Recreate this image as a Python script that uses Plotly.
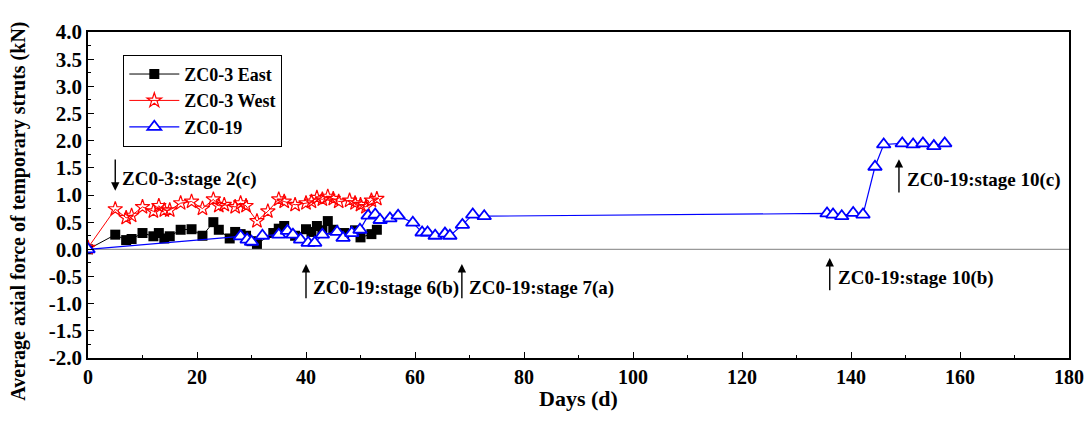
import plotly.graph_objects as go

east_days = [0, 5, 7, 8, 10, 12, 13, 14, 15, 17, 19, 21, 23, 24, 26, 27, 28, 29, 30, 31,
             34, 35, 36, 38, 40, 41, 42, 43, 44, 45, 47, 49, 50, 52, 53]
east_vals = [0.0, 0.27, 0.17, 0.19, 0.30, 0.24, 0.30, 0.20, 0.24, 0.36, 0.37, 0.25, 0.50, 0.36,
             0.20, 0.32, 0.28, 0.25, 0.15, 0.10, 0.30, 0.38, 0.43, 0.25, 0.37, 0.32, 0.43, 0.35,
             0.52, 0.36, 0.30, 0.35, 0.22, 0.28, 0.36]

west_days = [0, 5, 7, 8, 10, 12, 13, 14, 15, 17, 19, 21, 23, 24, 25, 27, 28, 29, 31, 33,
             35, 36, 38, 40, 41, 42, 43, 44, 45, 46, 48, 49, 50, 51, 52, 53]
west_vals = [0.03, 0.74, 0.58, 0.62, 0.78, 0.70, 0.80, 0.72, 0.72, 0.85, 0.88, 0.75, 0.92,
             0.80, 0.82, 0.78, 0.85, 0.80, 0.52, 0.70, 0.92, 0.88, 0.82, 0.85, 0.88, 0.95,
             0.92, 0.97, 0.93, 0.88, 0.90, 0.85, 0.82, 0.78, 0.90, 0.93]

zc19_days = [0, 28, 29.2, 30, 32, 35, 36.6, 37.6, 39, 40.4, 41.6, 43, 45.7, 46.8, 48.4, 49.9,
             51.4, 52.7, 53.6, 55.4, 56.9, 59.6, 61.3, 62.3, 63.7, 65.5, 66.4, 68.7, 70.6, 72.7,
             135.6, 136.7, 138.3, 140.4, 142.2, 144.4, 146.0, 149.4, 151.4, 153.2, 155.2, 157.2]
zc19_vals = [0.0, 0.24, 0.18, 0.14, 0.25, 0.27, 0.34, 0.27, 0.18, 0.12, 0.12, 0.27, 0.32, 0.21,
             0.30, 0.36, 0.62, 0.64, 0.54, 0.57, 0.62, 0.49, 0.31, 0.31, 0.25, 0.29, 0.25, 0.45,
             0.64, 0.61, 0.66, 0.64, 0.61, 0.67, 0.64, 1.52, 1.93, 1.95, 1.93, 1.95, 1.90, 1.95]

y_ticks = [-2.0, -1.5, -1.0, -0.5, 0.0, 0.5, 1.0, 1.5, 2.0, 2.5, 3.0, 3.5, 4.0]
x_ticks = [0, 20, 40, 60, 80, 100, 120, 140, 160, 180]

FONT = "Liberation Serif"

fig = go.Figure()
fig.add_trace(go.Scatter(x=east_days, y=east_vals, mode="lines+markers", name="<b>ZC0-3 East</b>",
                         line=dict(color="black", width=1),
                         marker=dict(symbol="square", size=10, color="black")))
fig.add_trace(go.Scatter(x=west_days, y=west_vals, mode="lines+markers", name="<b>ZC0-3 West</b>",
                         line=dict(color="red", width=1),
                         marker=dict(symbol="star-open", size=11, color="red",
                                     line=dict(width=1.2, color="red"))))
fig.add_trace(go.Scatter(x=zc19_days, y=zc19_vals, mode="lines+markers", name="<b>ZC0-19</b>",
                         line=dict(color="blue", width=1.2),
                         marker=dict(symbol="triangle-up", size=12, color="white",
                                     line=dict(width=1.8, color="blue"))))

fig.add_shape(type="line", xref="paper", x0=0, x1=1, yref="y", y0=0, y1=0,
              line=dict(color="#999999", width=1.2), layer="below")

def arrow(x, y_tail, y_head):
    fig.add_annotation(x=x, y=y_head, ax=x, ay=y_tail, xref="x", yref="y", axref="x", ayref="y",
                       showarrow=True, arrowhead=2, arrowsize=1.2, arrowwidth=1.4,
                       arrowcolor="black", text="")

def label(x, y, txt):
    fig.add_annotation(x=x, y=y, xref="x", yref="y", text="<b>" + txt + "</b>", showarrow=False,
                       xanchor="left", yanchor="middle",
                       font=dict(family=FONT, size=19, color="black"))

arrow(5, 1.68, 1.08)
label(5.9, 1.3, "ZC0-3:stage 2(c)")
arrow(40, -0.93, -0.27)
label(41.0, -0.71, "ZC0-19:stage 6(b)")
arrow(68.6, -0.93, -0.27)
label(69.6, -0.71, "ZC0-19:stage 7(a)")
arrow(136.1, -0.78, -0.16)
label(137.3, -0.52, "ZC0-19:stage 10(b)")
arrow(148.8, 1.02, 1.66)
label(149.9, 1.28, "ZC0-19:stage 10(c)")

# y-axis title as a rotated annotation (slightly below the plot centre, as in the reference)
fig.add_annotation(xref="paper", yref="paper", x=-0.071, y=0.45, xanchor="center", yanchor="middle",
                   text="<b>Average axial force of temporary struts (kN)</b>", textangle=-90,
                   showarrow=False, font=dict(family=FONT, size=20, color="black"))

fig.update_layout(
    width=1086, height=421,
    margin=dict(l=88, r=17, t=32, b=63, autoexpand=False),
    plot_bgcolor="white", paper_bgcolor="white",
    font=dict(family=FONT, size=19, color="black"),
    showlegend=True,
    legend=dict(x=0.036, y=0.93, xanchor="left", yanchor="top",
                bgcolor="white", bordercolor="black", borderwidth=1,
                font=dict(family=FONT, size=18, color="black"),
                tracegroupgap=0, itemwidth=50),
    xaxis=dict(range=[0, 180], tickvals=x_ticks, ticktext=["<b>%d</b>" % v for v in x_ticks],
               tickfont=dict(family=FONT, size=20), ticklabeloverflow="allow", automargin=False,
               ticks="inside", ticklen=6, tickwidth=1.2, tickcolor="black",
               minor=dict(dtick=10, ticks="inside", ticklen=3, tickcolor="black"),
               showline=True, linecolor="black", linewidth=1.5, mirror=True,
               showgrid=False, zeroline=False,
               title=dict(text="<b>Days (d)</b>", font=dict(family=FONT, size=22), standoff=4)),
    yaxis=dict(range=[-2.0, 4.0], tickvals=y_ticks, ticktext=["<b>%.1f</b>" % v for v in y_ticks],
               tickfont=dict(family=FONT, size=21), ticklabeloverflow="allow", automargin=False,
               ticks="inside", ticklen=6, tickwidth=1.2, tickcolor="black",
               minor=dict(dtick=0.25, ticks="inside", ticklen=3, tickcolor="black"),
               showline=True, linecolor="black", linewidth=1.5, mirror=True,
               showgrid=False, zeroline=False),
)

fig.write_html("out.html")
